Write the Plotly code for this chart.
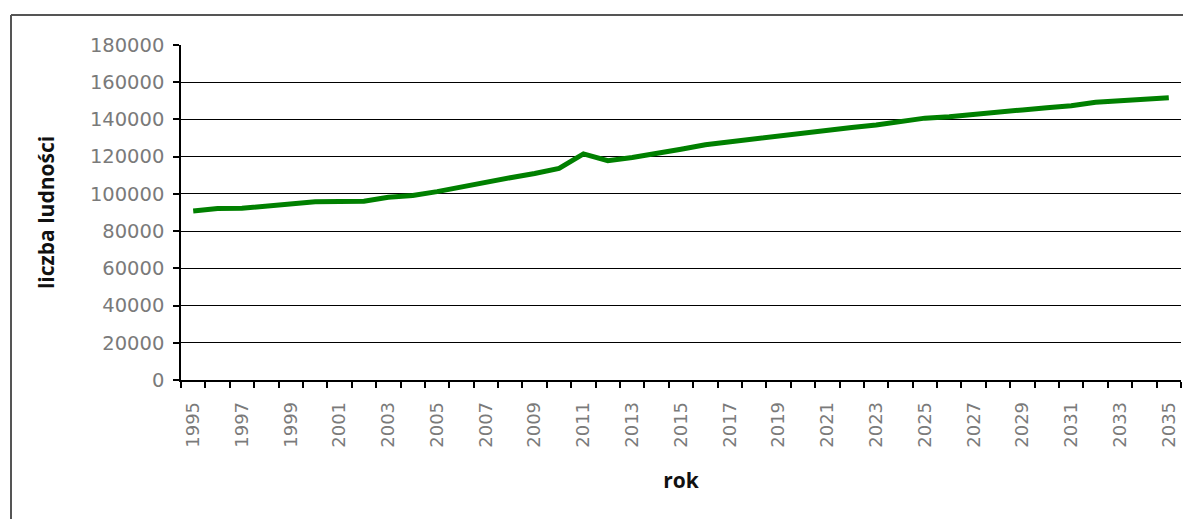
import plotly.graph_objects as go

# Population by year, 1995-2035
years = list(range(1995, 2036))
population = [
    90800, 92100, 92300, 93600, 94900, 95800, 95900, 96100, 98200, 99100,
    101200, 103900, 106500, 108700, 111000, 113700, 121500, 117800, 119600, 121600,
    124000, 126400, 128000, 129800, 131300, 132500, 134200, 135700, 137000, 138600,
    140700, 141500, 142900, 144200, 145100, 146300, 147400, 149200, 150100, 151000,
    151700,
]
y_ticks = [0, 20000, 40000, 60000, 80000, 100000, 120000, 140000, 160000, 180000]
grid_vals = y_ticks[1:-1]
x_label_years = years[::2]

W, H = 1183, 519
L, R, T, B = 181, 2, 45, 139
pw, ph = W - L - R, H - T - B

fig = go.Figure()
fig.add_trace(go.Scatter(
    x=years, y=population, mode="lines",
    line=dict(color="#008000", width=5),
    showlegend=False, hoverinfo="x+y",
))

x_tick_font = dict(family="DejaVu Sans", size=18, color="#7a7a7a")
y_tick_font = dict(family="DejaVu Sans", size=19.5, color="#7a7a7a")
title_font = dict(family="Open Sans", size=21, color="#111111")

fig.update_layout(
    width=W, height=H,
    margin=dict(l=L, r=R, t=T, b=B),
    paper_bgcolor="white", plot_bgcolor="white",
    xaxis=dict(
        range=[years[0] - 0.5, years[-1] + 0.5],
        tickmode="array", tickvals=x_label_years,
        ticktext=[str(v) for v in x_label_years],
        ticks="", tickangle=-90, tickfont=x_tick_font,
        ticklabelstandoff=13,
        showline=True, linecolor="black", linewidth=1.5,
        showgrid=False, zeroline=False,
        minor=dict(tick0=years[0] - 0.5, dtick=1, ticks="outside",
                   ticklen=6, tickcolor="black", tickwidth=1.5, showgrid=False),
        title=dict(text="<b>rok</b>", font=title_font, standoff=27),
    ),
    yaxis=dict(
        range=[0, 180000],
        tickmode="array", tickvals=y_ticks,
        ticktext=[str(v) for v in y_ticks],
        ticks="outside", ticklen=6, tickcolor="black", tickwidth=1.5,
        tickfont=y_tick_font, ticklabelstandoff=5,
        showline=True, linecolor="black", linewidth=1.5,
        showgrid=False, zeroline=False,
        minor=dict(tickvals=grid_vals, showgrid=True, gridcolor="black",
                   gridwidth=1, ticks=""),
        title=dict(text="<b>liczba ludności</b>", font=title_font, standoff=30),
    ),
)

# Chart frame: left and top edges
def px_x(x):
    return (x - L) / pw

def px_y(y):
    return (H - B - y) / ph

frame = dict(color="#555555", width=2)
fig.add_shape(type="line", xref="paper", yref="paper",
              x0=px_x(11), x1=px_x(11), y0=px_y(15), y1=px_y(H + 5), line=frame)
fig.add_shape(type="line", xref="paper", yref="paper",
              x0=px_x(11), x1=px_x(W + 5), y0=px_y(15), y1=px_y(15), line=frame)

fig.write_html("out.html")
